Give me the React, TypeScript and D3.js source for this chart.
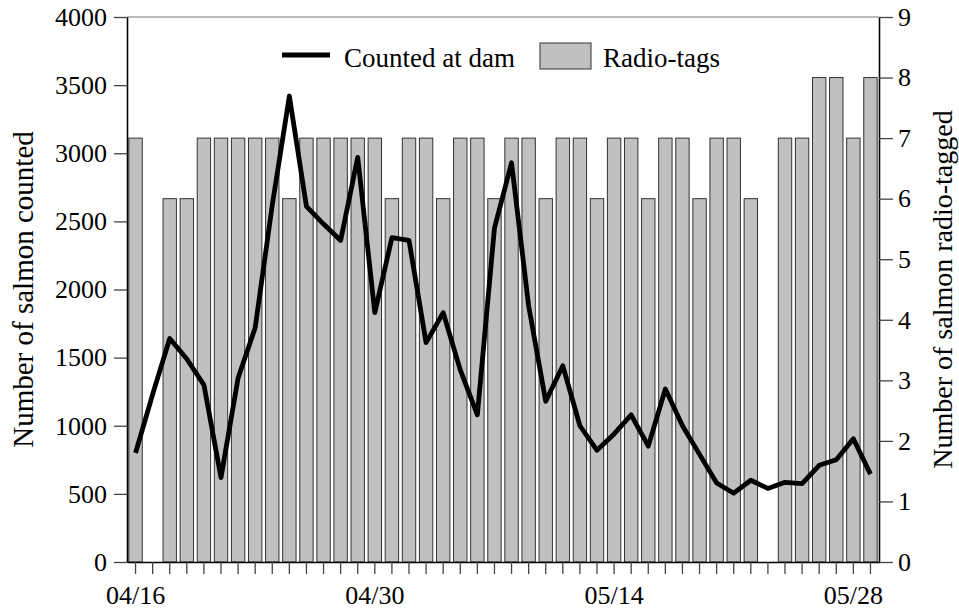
import React, { useRef, useEffect } from "react";
import * as d3 from "d3";

const dates = [
  "04/16", "04/17", "04/18", "04/19", "04/20", "04/21", "04/22", "04/23", "04/24", "04/25", "04/26",
  "04/27", "04/28", "04/29", "04/30", "05/01", "05/02", "05/03", "05/04", "05/05", "05/06", "05/07",
  "05/08", "05/09", "05/10", "05/11", "05/12", "05/13", "05/14", "05/15", "05/16", "05/17", "05/18",
  "05/19", "05/20", "05/21", "05/22", "05/23", "05/24", "05/25", "05/26", "05/27", "05/28", "05/29",
];
const counted = [
  800, 1230, 1640, 1490, 1300, 620, 1350, 1720, 2620, 3420, 2610,
  2480, 2360, 2970, 1830, 2380, 2360, 1610, 1830, 1410, 1080, 2450,
  2930, 1880, 1180, 1440, 1000, 820, 940, 1080, 850, 1270, 1000,
  790, 580, 505, 600, 540, 585, 575, 710, 750, 905, 645,
];
const radioTags = [
  7, 0, 6, 6, 7, 7, 7, 7, 7, 6, 7,
  7, 7, 7, 7, 6, 7, 7, 6, 7, 7, 6,
  7, 7, 6, 7, 7, 6, 7, 7, 6, 7, 7,
  6, 7, 7, 6, 0, 7, 7, 8, 8, 7, 8,
];
const countTicks = [0, 500, 1000, 1500, 2000, 2500, 3000, 3500, 4000];
const tagTicks = [0, 1, 2, 3, 4, 5, 6, 7, 8, 9];
const dateLabels = ["04/16", "04/30", "05/14", "05/28"];

const font = "Liberation Serif, Times New Roman, DejaVu Serif, serif";

const App = () => {
  const sPlot = useRef<SVGSVGElement>(null);

  useEffect(() => {
    const left = 127, right = 879, top = 17, bottom = 562;

    const svg = d3.select(sPlot.current);
    svg.selectAll("*").remove();

    const x = d3.scaleBand(dates, [left, right]).paddingInner(0.216).paddingOuter(0.108);
    const yCount = d3.scaleLinear([0, 4000], [bottom, top]);
    const yTags = d3.scaleLinear([0, 9], [bottom, top]);

    // bars (radio tags)
    svg.append("g")
      .selectAll("rect")
      .data(dates)
      .join("rect")
      .attr("x", d => x(d)!)
      .attr("y", (d, i) => yTags(radioTags[i]))
      .attr("width", x.bandwidth())
      .attr("height", (d, i) => yTags(0) - yTags(radioTags[i]))
      .attr("fill", "#c0c0c0")
      .attr("stroke", "#333")
      .attr("stroke-width", 1);

    // line (counted at dam)
    const line = d3.line<number>()
      .x((d, i) => x(dates[i])! + x.bandwidth() / 2)
      .y(d => yCount(d));

    svg.append("path")
      .attr("fill", "none")
      .attr("stroke", "black")
      .attr("stroke-width", 4.8)
      .attr("stroke-linejoin", "round")
      .attr("d", line(counted));

    // top frame
    svg.append("line")
      .attr("x1", left).attr("x2", right)
      .attr("y1", top).attr("y2", top)
      .attr("stroke", "#777")
      .attr("stroke-width", 1.2);

    const styleAxis = (g: any) => {
      g.attr("font-family", null).attr("font-size", null)
        .style("font-family", font).style("font-size", "26px");
      g.select(".domain").attr("stroke", "black").attr("stroke-width", 1.6);
      g.selectAll(".tick line").attr("stroke", "#444").attr("stroke-width", 1.3);
      g.selectAll(".tick text").attr("fill", "black");
    };

    svg.append("g")
      .attr("transform", `translate(${left},0)`)
      .call(d3.axisLeft(yCount).tickValues(countTicks).tickFormat(d3.format("d"))
        .tickSize(13).tickSizeOuter(0).tickPadding(7))
      .call(styleAxis);

    svg.append("g")
      .attr("transform", `translate(${right},0)`)
      .call(d3.axisRight(yTags).tickValues(tagTicks).tickFormat(d3.format("d"))
        .tickSize(14).tickSizeOuter(0).tickPadding(5))
      .call(styleAxis);

    svg.append("g")
      .attr("transform", `translate(0,${bottom})`)
      .call(d3.axisBottom(x).tickSize(12).tickSizeOuter(0).tickPadding(12)
        .tickFormat(d => dateLabels.includes(d) ? d : ""))
      .call(styleAxis);

    // axis titles
    svg.append("text")
      .attr("transform", `translate(33,${(top + bottom) / 2}) rotate(-90)`)
      .attr("text-anchor", "middle")
      .style("font-family", font)
      .style("font-size", "29px")
      .text("Number of salmon counted");

    svg.append("text")
      .attr("transform", `translate(952,${(top + bottom) / 2}) rotate(-90)`)
      .attr("text-anchor", "middle")
      .style("font-family", font)
      .style("font-size", "28px")
      .text("Number of salmon radio-tagged");

    // legend
    const legend = svg.append("g").style("font-family", font).style("font-size", "27px");
    legend.append("line")
      .attr("x1", 282).attr("x2", 330)
      .attr("y1", 55).attr("y2", 55)
      .attr("stroke", "black")
      .attr("stroke-width", 5);
    legend.append("text").attr("x", 344).attr("y", 67).text("Counted at dam");
    legend.append("rect")
      .attr("x", 540).attr("y", 43)
      .attr("width", 51).attr("height", 26)
      .attr("fill", "#c0c0c0")
      .attr("stroke", "#333");
    legend.append("text").attr("x", 603).attr("y", 67).text("Radio-tags");
  }, []);

  return (
    <svg ref={sPlot} width={959} height={611}
      style={{ position: "absolute", left: 0, top: 0, background: "white" }}>
    </svg>
  );
};

export default App;
